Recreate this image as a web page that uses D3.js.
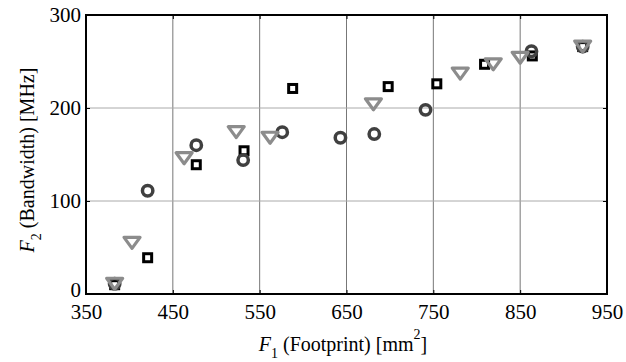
<!DOCTYPE html>
<html>
<head>
<meta charset="utf-8">
<script src="https://cdn.jsdelivr.net/npm/d3@7"></script>
<style>
  body { margin: 0; background: #fff; }
  text { font-family: "Liberation Serif", serif; fill: #000; }
</style>
</head>
<body>
<div id="chart"></div>
<script>
const width = 626;
const height = 362;

// Series values: [footprint, bandwidth]
const squares = [
  [383, 10], [421, 39], [477, 139], [532, 154], [588, 221],
  [698, 223], [754, 226], [809, 247], [864, 256], [922, 266]
];
const circles = [
  [383, 11], [421, 111], [477, 160], [531, 144], [576, 174],
  [643, 168], [682, 172], [741, 198], [863, 261], [922, 266]
];
const triangles = [
  [383, 11], [403, 55], [463, 146], [523, 174], [562, 168],
  [681, 204], [781, 237], [819, 247], [850, 254], [922, 266]
];
const xTicks = [350, 450, 550, 650, 750, 850, 950];
const yTicks = [0, 100, 200, 300];

const margin = { top: 15, right: 19, bottom: 68, left: 86 };

const svg = d3
  .select("#chart")
  .append("svg")
  .attr("width", width)
  .attr("height", height);

const x = d3.scaleLinear().domain([350, 950]).range([margin.left, width - margin.right]);
const y = d3.scaleLinear().domain([0, 300]).range([height - margin.bottom, margin.top]);

const g = svg.append("g");

// Grid
g.append("g")
  .selectAll("line")
  .data(xTicks.slice(1, -1))
  .join("line")
  .attr("x1", (d) => x(d))
  .attr("x2", (d) => x(d))
  .attr("y1", y(0))
  .attr("y2", y(300))
  .attr("stroke", "#777")
  .attr("stroke-width", 1);

g.append("g")
  .selectAll("line")
  .data(yTicks.slice(1, -1))
  .join("line")
  .attr("x1", x(350))
  .attr("x2", x(950))
  .attr("y1", (d) => y(d))
  .attr("y2", (d) => y(d))
  .attr("stroke", "#aaa")
  .attr("stroke-width", 1);

// Axes with inward ticks
const axisStyle = (sel) => {
  sel.select(".domain").remove();
  sel.selectAll(".tick line").attr("stroke", "#000");
  sel.selectAll(".tick text")
    .style("font-family", '"Liberation Serif", serif')
    .style("font-size", "21px")
    .attr("fill", "#000");
};

svg.append("g")
  .attr("transform", `translate(0,${y(0)})`)
  .call(d3.axisBottom(x).tickValues(xTicks).tickSize(-4).tickPadding(10))
  .call(axisStyle);

svg.append("g")
  .attr("transform", `translate(0,${y(300)})`)
  .call(d3.axisTop(x).tickValues(xTicks).tickSize(-4).tickFormat(""))
  .call(axisStyle);

const yAxis = svg.append("g")
  .attr("transform", `translate(${x(350)},0)`)
  .call(d3.axisLeft(y).tickValues(yTicks).tickSize(-4).tickPadding(5))
  .call(axisStyle);
// lift the "0" a little so it clears the first x label
yAxis.selectAll(".tick text").filter((d) => d === 0).attr("dy", "0.1em");

svg.append("g")
  .attr("transform", `translate(${x(950)},0)`)
  .call(d3.axisRight(y).tickValues(yTicks).tickSize(-4).tickFormat(""))
  .call(axisStyle);

// Frame
svg.append("rect")
  .attr("x", x(350))
  .attr("y", y(300))
  .attr("width", x(950) - x(350))
  .attr("height", y(0) - y(300))
  .attr("fill", "none")
  .attr("stroke", "#000")
  .attr("stroke-width", 2);

// Markers
const marks = svg.append("g");

marks.selectAll("rect.sq")
  .data(squares)
  .join("rect")
  .attr("class", "sq")
  .attr("x", (d) => x(d[0]) - 4)
  .attr("y", (d) => y(d[1]) - 4)
  .attr("width", 8)
  .attr("height", 8)
  .attr("fill", "none")
  .attr("stroke", "#000")
  .attr("stroke-width", 3);

marks.selectAll("circle")
  .data(circles)
  .join("circle")
  .attr("cx", (d) => x(d[0]))
  .attr("cy", (d) => y(d[1]))
  .attr("r", 5.2)
  .attr("fill", "none")
  .attr("stroke", "#404040")
  .attr("stroke-width", 3.5);

// Downward triangle, centred on its bounding box
const triPath = (w, h) => `M${-w / 2},${-h / 2}L${w / 2},${-h / 2}L0,${h / 2}Z`;
marks.selectAll("path.tri")
  .data(triangles)
  .join("path")
  .attr("class", "tri")
  .attr("d", triPath(16, 11))
  .attr("transform", (d) => `translate(${x(d[0])},${y(d[1])})`)
  .attr("fill", "none")
  .attr("stroke", "#8c8c8c")
  .attr("stroke-width", 3.2)
  .attr("stroke-linejoin", "round");

// Axis labels
const xl = svg.append("text")
  .attr("x", 343)
  .attr("y", 351)
  .attr("text-anchor", "middle")
  .style("font-size", "20px");
xl.append("tspan").attr("font-style", "italic").text("F");
xl.append("tspan").attr("dy", 7).style("font-size", "14px").text("1");
xl.append("tspan").attr("dy", -7).text(" (Footprint) [mm");
xl.append("tspan").attr("dy", -12).style("font-size", "14px").text("2");
xl.append("tspan").attr("dy", 12).text("]");

const yl = svg.append("text")
  .attr("transform", `translate(34,160) rotate(-90)`)
  .attr("text-anchor", "middle")
  .style("font-size", "20px");
yl.append("tspan").attr("font-style", "italic").text("F");
yl.append("tspan").attr("dy", 7).style("font-size", "14px").text("2");
yl.append("tspan").attr("dy", -7).text(" (Bandwidth) [MHz]");
</script>
</body>
</html>
